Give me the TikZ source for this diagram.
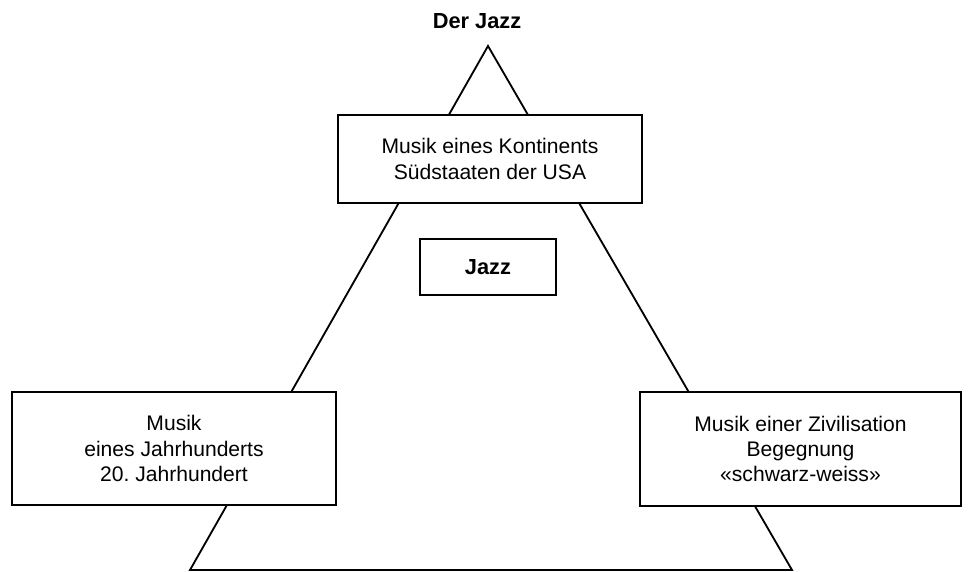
\documentclass[tikz,border=0pt]{standalone}
\usepackage{fontspec}
\setmainfont{Liberation Sans}
\usetikzlibrary{positioning}

\begin{document}
\begin{tikzpicture}[x = 0.025cm, y = -0.025cm,
                    line width = 1.3pt,
                    box/.style   = {rectangle,
                                    draw,
                                    fill = white,
                                    line width = 1.6pt,
                                    inner sep = 0pt,
                                    align = center,
                                    font = \fontsize{15}{17.9}\selectfont},
                    title/.style = {font = \fontsize{15.5}{18}\selectfont\bfseries}]

\useasboundingbox (0,0) rectangle (968,572);

% the big triangle, the boxes sit on top of it
\coordinate (apex) at (488,46);
\coordinate (baseL) at (190,570);
\coordinate (baseR) at (792,570);
\draw (apex) -- (baseL) -- (baseR) -- cycle;

\node[title] (T) at (477,21) {Der Jazz};

\node[box, minimum width = 7.6cm, minimum height = 2.2cm] (K) at (490,159)
     {Musik eines Kontinents\\Südstaaten der USA};

\node[box, title, minimum width = 3.4cm, minimum height = 1.4cm] (J) at (488,267) {Jazz};

\node[box, minimum width = 8.1cm, minimum height = 2.825cm] (H) at (174,448.5)
     {Musik\\eines Jahrhunderts\\20.\ Jahrhundert};
\node[box, minimum width = 8.025cm, minimum height = 2.85cm] (Z) at (800.5,449)
     {Musik einer Zivilisation\\Begegnung\\«schwarz-weiss»};

\end{tikzpicture}
\end{document}
